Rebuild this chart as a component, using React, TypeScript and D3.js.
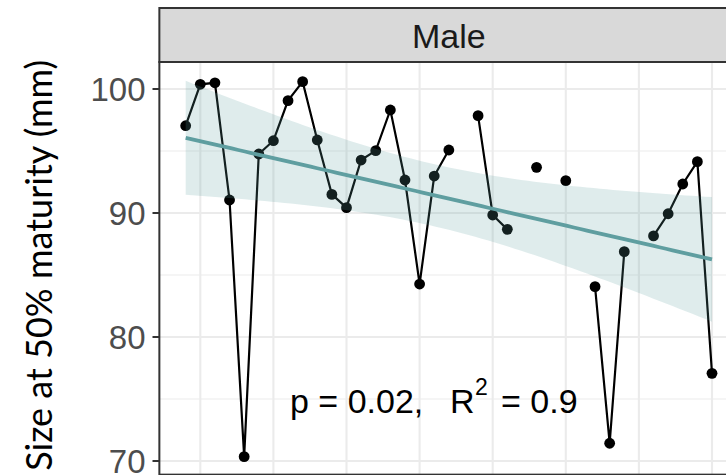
import React from "react";
import * as d3 from "d3";

const years = [1984,1985,1986,1987,1988,1989,1990,1991,1992,1993,1994,1995,1996,1997,1998,1999,2000,2001,2002,2003,2004,2005,2006,2007,2008,2009,2010,2011,2012,2013,2014,2015,2016,2017,2018,2019,2020];
const sizes: (number | null)[] = [97.04,100.38,100.5,91.05,70.35,94.76,95.83,99.06,100.59,95.89,91.5,90.43,94.27,95.03,98.31,92.66,84.27,92.98,95.08,null,97.85,89.84,88.68,null,93.68,null,92.61,null,84.06,71.43,86.88,null,88.15,89.94,92.34,94.14,77.07];
const yTicks = [70, 80, 90, 100];
const yMinor = [75, 85, 95];
const xBreaks = [1985, 1990, 1995, 2000, 2005, 2010, 2015, 2020];
const facetLabel = "Male";
const yTitle = "Size at 50% maturity (mm)";
const pLabel = "p = 0.02,";
const rLabel = "R";
const rSup = "2";
const rValue = "= 0.9";

export default function App() {
  const W = 726, H = 475;
  const x = d3.scaleLinear().domain([1985, 2020]).range([200.3, 712]);
  const y = d3.scaleLinear().domain([70, 100]).range([461, 89]);
  const panelL = x(1982.2), panelR = x(2021.8), panelT = 62, panelB = y(68.9);

  const pts = years.map((yr, i) => ({ yr, v: sizes[i] })).filter(d => d.v != null) as { yr: number; v: number }[];
  const n = pts.length;
  const xbar = d3.mean(pts, d => d.yr)!;
  const ybar = d3.mean(pts, d => d.v)!;
  const Sxx = d3.sum(pts, d => (d.yr - xbar) ** 2);
  const Sxy = d3.sum(pts, d => (d.yr - xbar) * (d.v - ybar));
  const b = Sxy / Sxx;
  const a = ybar - b * xbar;
  const sse = d3.sum(pts, d => (d.v - a - b * d.yr) ** 2);
  const s = Math.sqrt(sse / (n - 2));
  const tq = 2.0423;
  const grid = d3.range(0, 81).map(k => years[0] + (years[years.length - 1] - years[0]) * k / 80);
  const fit = grid.map(g => {
    const f = a + b * g;
    const se = s * Math.sqrt(1 / n + (g - xbar) ** 2 / Sxx);
    return { g, f, lo: f - tq * se, hi: f + tq * se };
  });

  const line = d3.line<{ yr: number; v: number | null }>()
    .defined(d => d.v != null)
    .x(d => x(d.yr))
    .y(d => y(d.v as number));
  const area = d3.area<typeof fit[0]>().x(d => x(d.g)).y0(d => y(d.lo)).y1(d => y(d.hi));
  const fitLine = d3.line<typeof fit[0]>().x(d => x(d.g)).y(d => y(d.f));

  const sans = "'Liberation Sans', Arial, sans-serif";
  return (
    <svg width={W} height={H} style={{ position: "absolute", left: 0, top: 0, background: "#fff" }}>
      <defs>
        <clipPath id="pc"><rect x={panelL} y={panelT} width={panelR - panelL} height={panelB - panelT} /></clipPath>
      </defs>
      <rect x={panelL} y={panelT} width={panelR - panelL} height={panelB - panelT} fill="#fff" />
      <g clipPath="url(#pc)">
        {yMinor.map(t => <line key={"m" + t} x1={panelL} x2={panelR} y1={y(t)} y2={y(t)} stroke="#EBEBEB" strokeWidth={1.1} />)}
        {yTicks.map(t => <line key={"M" + t} x1={panelL} x2={panelR} y1={y(t)} y2={y(t)} stroke="#EBEBEB" strokeWidth={2.1} />)}
        {xBreaks.map(t => <line key={"x" + t} x1={x(t)} x2={x(t)} y1={panelT} y2={panelB} stroke="#EBEBEB" strokeWidth={2.1} />)}
        <path d={line(years.map((yr, i) => ({ yr, v: sizes[i] })))!} fill="none" stroke="#000" strokeWidth={2.2} />
        {pts.map(d => <circle key={d.yr} cx={x(d.yr)} cy={y(d.v)} r={5.4} fill="#000" />)}
        <path d={area(fit)!} fill="#5F9EA0" fillOpacity={0.2} />
        <path d={fitLine(fit)!} fill="none" stroke="#5F9EA0" strokeWidth={3.8} />
        <g fontFamily={sans} fill="#000">
          <text x={290} y={413} fontSize={34}>{pLabel}</text>
          <text x={450} y={413} fontSize={34}>{rLabel}</text>
          <text x={475} y={395} fontSize={23}>{rSup}</text>
          <text x={501} y={413} fontSize={34}>{rValue}</text>
        </g>
      </g>
      <rect x={panelL} y={panelT} width={panelR - panelL} height={panelB - panelT} fill="none" stroke="#333333" strokeWidth={2} />
      <rect x={panelL} y={8} width={panelR - panelL} height={panelT - 8} fill="#D9D9D9" stroke="#333333" strokeWidth={2} />
      <text x={(panelL + panelR) / 2} y={48} textAnchor="middle" fontFamily={sans} fontSize={34} fill="#1A1A1A">{facetLabel}</text>
      {yTicks.map(t => (
        <g key={"t" + t}>
          <line x1={152.5} x2={panelL} y1={y(t)} y2={y(t)} stroke="#333333" strokeWidth={2} />
          <text x={145.5} y={y(t)} dy="0.36em" textAnchor="end" fontFamily={sans} fontSize={33} fill="#4D4D4D">{t}</text>
        </g>
      ))}
      <text transform={`translate(52,${(panelT + panelB) / 2 - 3}) rotate(-90)`} textAnchor="middle" fontFamily="Lato, sans-serif" fontSize={36} fill="#000">{yTitle}</text>
    </svg>
  );
}
